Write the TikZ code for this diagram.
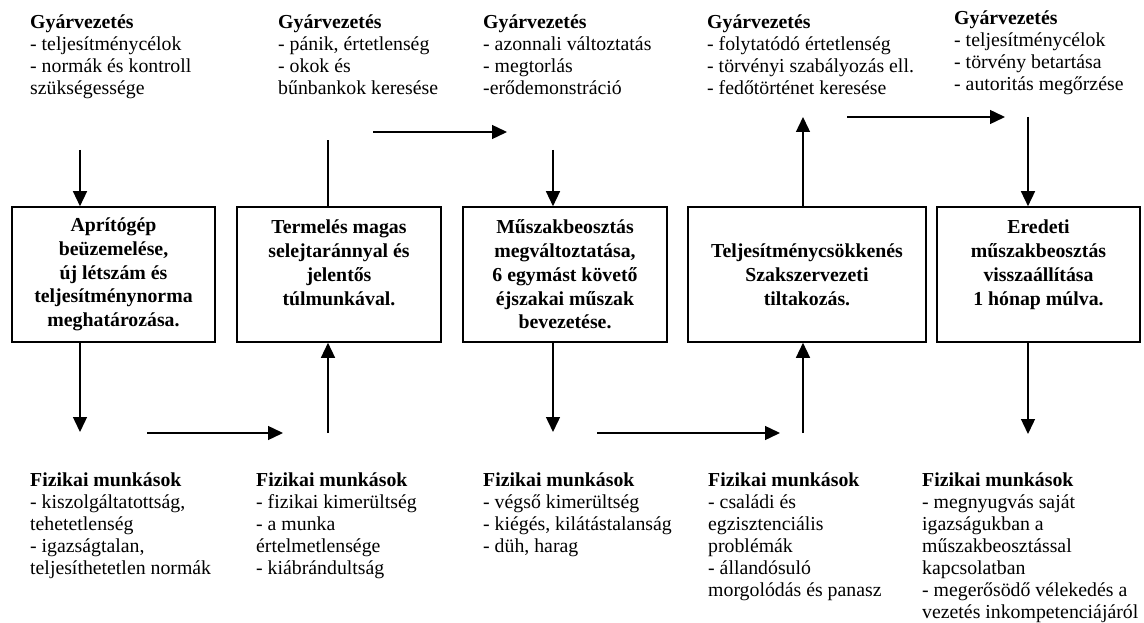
\documentclass[tikz,border=0pt]{standalone}
\usepackage{fontspec}
\setmainfont{Liberation Serif}
\usetikzlibrary{positioning}
\usetikzlibrary{arrows.meta}

\begin{document}
\begin{tikzpicture}[x=1pt,y=-1pt,
    font=\fontsize{19.8}{22}\selectfont,
    doboz/.style={draw,line width=1.6pt,minimum height=135pt,inner sep=0pt,align=center,font=\fontsize{19.8}{23.8}\selectfont\bfseries},
    szoveg/.style={anchor=north west,inner sep=0pt,align=left},
    nyil/.style={line width=1.4pt,-{Triangle[length=15pt,width=14pt]}},
    vonal/.style={line width=1.4pt}]
  \useasboundingbox (0,0) rectangle (1144,623);
  % esemenyek
  \node[doboz,minimum width=203pt] (b1) at (113.5,274.5) {Aprítógép\\beüzemelése,\\új létszám és\\teljesítménynorma\\meghatározása.};
  \node[doboz,minimum width=204pt] (b2) at (339,274.5) {Termelés magas\\selejtaránnyal és\\jelentős\\túlmunkával.\\\mbox{}};
  \node[doboz,minimum width=204pt] (b3) at (565,274.5) {Műszakbeosztás\\megváltoztatása,\\6 egymást követő\\éjszakai műszak\\bevezetése.};
  \node[doboz,minimum width=238pt] (b4) at (807,274.5) {Teljesítménycsökkenés\\Szakszervezeti\\tiltakozás.};
  \node[doboz,minimum width=203pt] (b5) at (1038.5,274.5) {Eredeti\\műszakbeosztás\\visszaállítása\\1 hónap múlva.\\\mbox{}};
  % gyarvezetes
  \node[szoveg] (gy1) at (30,12.6) {\textbf{Gyárvezetés}\strut\\- teljesítménycélok\\- normák és kontroll\\szükségessége};
  \node[szoveg] (gy2) at (278,12.6) {\textbf{Gyárvezetés}\strut\\- pánik, értetlenség\\- okok és\\bűnbankok keresése};
  \node[szoveg] (gy3) at (483,12.6) {\textbf{Gyárvezetés}\strut\\- azonnali változtatás\\- megtorlás\\-erődemonstráció};
  \node[szoveg] (gy4) at (707,12.6) {\textbf{Gyárvezetés}\strut\\- folytatódó értetlenség\\- törvényi szabályozás ell.\\- fedőtörténet keresése};
  \node[szoveg] (gy5) at (954,8.6) {\textbf{Gyárvezetés}\strut\\- teljesítménycélok\\- törvény betartása\\- autoritás megőrzése};
  % fizikai munkasok
  \node[szoveg] (fm1) at (30,471) {\textbf{Fizikai munkások}\strut\\- kiszolgáltatottság,\\tehetetlenség\\- igazságtalan,\\teljesíthetetlen normák};
  \node[szoveg] (fm2) at (256,471) {\textbf{Fizikai munkások}\strut\\- fizikai kimerültség\\- a munka\\értelmetlensége\\- kiábrándultság};
  \node[szoveg] (fm3) at (483,471) {\textbf{Fizikai munkások}\strut\\- végső kimerültség\\- kiégés, kilátástalanság\\- düh, harag};
  \node[szoveg] (fm4) at (708,471) {\textbf{Fizikai munkások}\strut\\- családi és\\egzisztenciális\\problémák\\- állandósuló\\morgolódás és panasz};
  \node[szoveg] (fm5) at (922,471) {\textbf{Fizikai munkások}\strut\\- megnyugvás saját\\igazságukban a\\műszakbeosztással\\kapcsolatban\\- megerősödő vélekedés a\\vezetés inkompetenciájáról};
  % nyilak vegpontjai
  \coordinate (f1) at (80,150);
  \coordinate (f2) at (328,140);
  \coordinate (f3) at (553,150);
  \coordinate (f4) at (803,117);
  \coordinate (f5) at (1028,117);
  \coordinate (l1) at (80,432);
  \coordinate (l2) at (328,433);
  \coordinate (l3) at (553,432);
  \coordinate (l4) at (803,433);
  \coordinate (l5) at (1028,434);
  \coordinate (h1a) at (373,132);
  \coordinate (h1b) at (507,132);
  \coordinate (h2a) at (847,117);
  \coordinate (h2b) at (1005,117);
  \coordinate (h3a) at (147,433);
  \coordinate (h3b) at (283,433);
  \coordinate (h4a) at (597,433);
  \coordinate (h4b) at (780,433);
  % felso nyilak
  \draw[nyil] (f1) -- (f1 |- b1.north);
  \draw[vonal] (b2.north -| f2) -- (f2);
  \draw[nyil] (f3) -- (f3 |- b3.north);
  \draw[nyil] (b4.north -| f4) -- (f4);
  \draw[nyil] (f5) -- (f5 |- b5.north);
  \draw[nyil] (h1a) -- (h1b);
  \draw[nyil] (h2a) -- (h2b);
  % also nyilak
  \draw[nyil] (b1.south -| l1) -- (l1);
  \draw[nyil] (l2) -- (l2 |- b2.south);
  \draw[nyil] (b3.south -| l3) -- (l3);
  \draw[nyil] (l4) -- (l4 |- b4.south);
  \draw[nyil] (b5.south -| l5) -- (l5);
  \draw[nyil] (h3a) -- (h3b);
  \draw[nyil] (h4a) -- (h4b);
\end{tikzpicture}
\end{document}
